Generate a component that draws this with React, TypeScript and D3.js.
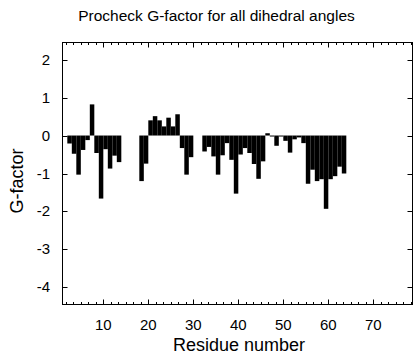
import React from "react";
import * as d3 from "d3";

const residues = [2, 3, 4, 5, 6, 7, 8, 9, 10, 11, 12, 13, 18, 19, 20, 21, 22, 23, 24, 25, 26, 27, 28, 29, 32, 33, 34, 35, 36, 37, 38, 39, 40, 41, 42, 43, 44, 45, 46, 47, 48, 49, 50, 51, 52, 53, 54, 55, 56, 57, 58, 59, 60, 61, 62, 63];
const gFactor = [-0.21, -0.48, -1.03, -0.38, -0.12, 0.82, -0.46, -1.66, -0.36, -0.87, -0.53, -0.7, -1.2, -0.74, 0.4, 0.51, 0.4, 0.24, 0.47, 0.24, 0.56, -0.33, -1.03, -0.57, -0.42, -0.3, -0.55, -1.03, -0.52, -0.2, -0.64, -1.53, -0.5, -0.33, -0.46, -0.75, -1.14, -0.68, 0.06, -0.02, -0.27, -0.02, -0.14, -0.45, -0.1, -0.05, -0.2, -1.27, -0.9, -1.2, -1.15, -1.93, -1.15, -1.07, -0.82, -1.0];
const yTicks = [-4, -3, -2, -1, 0, 1, 2];
const xTicks = [10, 20, 30, 40, 50, 60, 70];

const W = 416, H = 360;
const L = 62.5, R = 412.5, T = 42.5, B = 304.5;
const FONT = "'Liberation Sans', Arial, Helvetica, sans-serif";

export default function App() {
  const x = d3.scaleLinear().domain([0.93, 78.71]).range([L, R]);
  const y = d3.scaleLinear().domain([-4.45, 2.45]).range([B, T]);
  const minor = d3.range(10 - 5 * (10 / 6), 78.71, 10 / 6).filter((v) => v > 0.95);
  return (
    <svg width={W} height={H} style={{ position: "absolute", left: 0, top: 0, background: "#fff" }}>
      <rect x={0} y={0} width={W} height={H} fill="#fff" />
      <text x={216.5} y={21} textAnchor="middle" fontFamily={FONT} fontSize={15.5} fill="#000">
        Procheck G-factor for all dihedral angles
      </text>
      {residues.map((r, i) => {
        const v = gFactor[i];
        const y0 = y(0), y1 = y(v);
        return (
          <rect
            key={r}
            x={x(r)}
            width={x(r + 1) - x(r)}
            y={Math.min(y0, y1)}
            height={Math.max(1, Math.abs(y1 - y0))}
            fill="#000"
          />
        );
      })}
      <rect x={L} y={T} width={R - L} height={B - T} fill="none" stroke="#000" strokeWidth={1} />
      {yTicks.map((t) => (
        <g key={t}>
          <line x1={L} x2={L + 5} y1={Math.round(y(t)) + 0.5} y2={Math.round(y(t)) + 0.5} stroke="#000" />
          <line x1={R} x2={R - 5} y1={Math.round(y(t)) + 0.5} y2={Math.round(y(t)) + 0.5} stroke="#000" />
          <text x={50} y={y(t) + 5} textAnchor="end" fontFamily={FONT} fontSize={15} fill="#000">
            {t}
          </text>
        </g>
      ))}
      {minor.map((t, i) => (
        <g key={"m" + i}>
          <line x1={Math.round(x(t)) + 0.5} x2={Math.round(x(t)) + 0.5} y1={B} y2={B - 2.5} stroke="#000" />
          <line x1={Math.round(x(t)) + 0.5} x2={Math.round(x(t)) + 0.5} y1={T} y2={T + 2.5} stroke="#000" />
        </g>
      ))}
      {xTicks.map((t) => (
        <g key={t}>
          <line x1={Math.round(x(t)) + 0.5} x2={Math.round(x(t)) + 0.5} y1={B} y2={B - 5} stroke="#000" />
          <line x1={Math.round(x(t)) + 0.5} x2={Math.round(x(t)) + 0.5} y1={T} y2={T + 5} stroke="#000" />
          <text x={x(t)} y={330} textAnchor="middle" fontFamily={FONT} fontSize={15} fill="#000">
            {t}
          </text>
        </g>
      ))}
      <text x={239} y={351} textAnchor="middle" fontFamily={FONT} fontSize={18} fill="#000">
        Residue number
      </text>
      <text
        transform={`translate(23, 181) rotate(-90)`}
        textAnchor="middle"
        fontFamily={FONT}
        fontSize={18}
        fill="#000"
      >
        G-factor
      </text>
    </svg>
  );
}
